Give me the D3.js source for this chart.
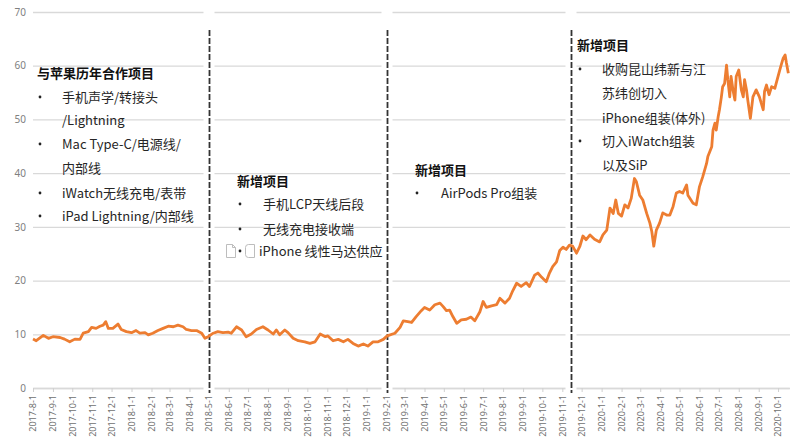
<!DOCTYPE html>
<html><head><meta charset="utf-8">
<script src="https://cdn.jsdelivr.net/npm/d3@7"></script>
<style>
body{margin:0;background:#fff;}
svg{display:block;font-family:"Noto Sans CJK SC","Noto Sans",sans-serif;}
</style>
</head><body>
<svg id="c" width="800" height="445"></svg>
<script>
// ---------- data ----------
const dates = [
"2017-08-01","2017-08-06","2017-08-17","2017-08-25","2017-09-01","2017-09-12","2017-09-19","2017-09-27",
"2017-10-05","2017-10-13","2017-10-18","2017-10-26","2017-10-31","2017-11-07","2017-11-13","2017-11-18",
"2017-11-22","2017-11-26","2017-12-03","2017-12-11","2017-12-16","2017-12-24","2018-01-01","2018-01-08",
"2018-01-14","2018-01-22","2018-01-27","2018-02-03","2018-02-11","2018-02-19","2018-02-27","2018-03-07",
"2018-03-14","2018-03-22","2018-03-27","2018-04-04","2018-04-12","2018-04-20","2018-04-25","2018-04-30",
"2018-05-08","2018-05-15","2018-05-23","2018-05-31","2018-06-05","2018-06-13","2018-06-21","2018-06-28",
"2018-07-06","2018-07-14","2018-07-24","2018-08-01","2018-08-09","2018-08-14","2018-08-19","2018-08-27",
"2018-09-01","2018-09-09","2018-09-17","2018-09-27","2018-10-05","2018-10-13","2018-10-21","2018-10-29",
"2018-11-02","2018-11-10","2018-11-18","2018-11-26","2018-12-03","2018-12-11","2018-12-19","2018-12-27",
"2019-01-03","2019-01-11","2019-01-19","2019-01-27","2019-02-02","2019-02-14","2019-02-22","2019-02-27",
"2019-03-06","2019-03-12","2019-03-19","2019-03-27","2019-04-01","2019-04-09","2019-04-17","2019-04-25",
"2019-04-30","2019-05-05","2019-05-10","2019-05-15","2019-05-21","2019-05-28","2019-06-05","2019-06-12",
"2019-06-18","2019-06-26","2019-07-01","2019-07-06","2019-07-14","2019-07-22","2019-07-27","2019-08-04",
"2019-08-11","2019-08-16","2019-08-22","2019-08-29","2019-09-06","2019-09-11","2019-09-19","2019-09-24",
"2019-09-30","2019-10-07","2019-10-12","2019-10-17","2019-10-23","2019-10-28","2019-11-02","2019-11-07",
"2019-11-12","2019-11-17","2019-11-23","2019-11-28","2019-12-03","2019-12-08","2019-12-14","2019-12-21",
"2019-12-29","2020-01-03","2020-01-09","2020-01-14","2020-01-19","2020-01-23","2020-01-27","2020-02-01",
"2020-02-06","2020-02-11","2020-02-16","2020-02-21","2020-02-24","2020-02-29","2020-03-05","2020-03-11",
"2020-03-16","2020-03-19","2020-03-22","2020-03-26","2020-03-31","2020-04-05","2020-04-11","2020-04-16",
"2020-04-21","2020-04-26","2020-05-01","2020-05-06","2020-05-12","2020-05-14","2020-05-22","2020-05-27",
"2020-06-01","2020-06-06","2020-06-12","2020-06-14","2020-06-20","2020-06-22","2020-06-25","2020-06-27",
"2020-06-30","2020-07-02","2020-07-05","2020-07-07","2020-07-10","2020-07-13","2020-07-15","2020-07-18",
"2020-07-20","2020-07-23","2020-07-26","2020-07-28","2020-08-01","2020-08-05","2020-08-08","2020-08-10",
"2020-08-13","2020-08-15","2020-08-19","2020-08-23","2020-08-28","2020-09-02","2020-09-08","2020-09-10",
"2020-09-13","2020-09-17","2020-09-21","2020-09-26","2020-10-01","2020-10-05","2020-10-09","2020-10-12",
"2020-10-14","2020-10-17"
];
const prices = [
9.1,8.8,9.8,9.25,9.55,9.4,9.1,8.6,
9.1,9.05,10.2,10.5,11.3,11.1,11.5,11.7,
12.35,11.1,11.1,11.9,10.9,10.5,10.3,10.7,
10.2,10.3,9.9,10.2,10.7,11.1,11.5,11.4,
11.7,11.4,10.9,10.7,10.7,10.2,9.25,9.55,
10.2,10.5,10.3,10.4,10.2,11.4,10.8,9.55,
10.05,10.9,11.4,10.8,10.05,10.8,9.9,10.8,
10.3,9.25,8.8,8.6,8.3,8.6,10.05,9.55,
9.7,8.8,9.05,8.6,9.05,8.3,7.8,8.2,
7.8,8.6,8.6,9.05,9.7,10.2,11.3,12.5,
12.35,12.2,13.3,14.4,15.0,14.5,15.5,15.8,
15.15,14.4,14.5,13.3,12.05,12.7,12.8,13.2,
12.5,14.2,16.1,15.0,15.3,15.5,16.7,15.8,
16.7,18.1,19.5,18.9,19.6,18.9,21.0,21.4,
20.6,19.8,21.4,22.6,23.5,25.6,26.2,25.8,
26.6,26.4,25.1,26.3,28.3,27.6,28.5,27.7,
27.2,28.5,29.4,33.5,32.5,35.0,32.5,32.0,
34.1,33.5,35.3,39.0,38.4,35.9,35.0,32.5,
30.7,29.1,26.4,29.4,30.7,32.6,32.2,32.2,
33.8,36.3,36.6,36.3,37.8,35.9,34.4,34.1,
37.5,39.3,41.8,43.1,44.9,48.0,49.3,48.0,
50.5,51.8,54.2,56.1,56.7,60.1,57.4,54.2,
58.0,55.5,53.6,58.0,59.2,55.5,54.2,57.4,
55.5,53.6,50.2,54.2,55.5,54.2,51.8,55.2,
56.4,54.6,56.1,55.8,58.0,59.8,61.4,62.0,
60.5,58.6
];
const yTicks = [0,10,20,30,40,50,60,70];
const domainDates = ["2017-08-01","2020-10-18"];
const dividerDates = ["2018-05-01","2019-02-01","2019-11-14"];

const block1Title = "与苹果历年合作项目";
const block1Lines = ["手机声学/转接头","/Lightning","Mac Type-C/电源线/","内部线","iWatch无线充电/表带","iPad Lightning/内部线"];
const block1Bullets = [true,false,true,false,true,true];
const block2Title = "新增项目";
const block2Lines = ["手机LCP天线后段","无线充电接收端","iPhone 线性马达供应"];
const block3Title = "新增项目";
const block3Lines = ["AirPods Pro组装"];
const block4Title = "新增项目";
const block4Lines = ["收购昆山纬新与江","苏纬创切入","iPhone组装(体外)","切入iWatch组装","以及SiP"];
const block4Bullets = [true,false,false,true,false];

// ---------- chart ----------
const parse = d3.timeParse("%Y-%m-%d");
const data = dates.map((d,i)=>({date:parse(d), v:prices[i]}));
const svg = d3.select("#c");
const L = 33, R = 789, T = 12, B = 388;

const x = d3.scaleTime().domain(domainDates.map(parse)).range([L,R]);
const y = d3.scaleLinear().domain([0,70]).range([B,T]);

// grid + y labels
const ya = svg.append("g").attr("transform",`translate(${L},0)`)
  .call(d3.axisLeft(y).tickValues(yTicks).tickSize(-(R-L+1)).tickPadding(7));
ya.select(".domain").remove();
ya.selectAll(".tick line").attr("stroke","#d9d9d9").attr("stroke-width",1.3);
ya.selectAll(".tick text").attr("fill","#808080").attr("font-size",10)
  .attr("font-family","'Noto Sans','DejaVu Sans',sans-serif");

// x axis
const xa = svg.append("g").attr("transform",`translate(0,${B})`)
  .call(d3.axisBottom(x).ticks(d3.timeMonth.every(1)).tickFormat(d3.timeFormat("%Y-%-m-%-d")).tickSize(4).tickSizeOuter(0));
xa.select(".domain").attr("stroke","#d9d9d9").attr("stroke-width",1.3);
xa.selectAll(".tick line").attr("stroke","#d0d0d0");
xa.selectAll(".tick text").attr("fill","#707070").attr("font-size",9)
  .attr("font-family","'Noto Sans','DejaVu Sans',sans-serif")
  .attr("transform","rotate(-90)").attr("text-anchor","end")
  .attr("x",-7).attr("y",0).attr("dy","0.32em");

// dividers
dividerDates.forEach(d=>{
  const xx = Math.round(x(parse(d)))+0.5;
  svg.append("rect").attr("x",xx-6).attr("y",T-4).attr("width",11).attr("height",B-T+8).attr("fill","#fff");
  svg.append("line").attr("x1",xx).attr("x2",xx).attr("y1",30).attr("y2",393)
    .attr("stroke","#333").attr("stroke-width",1.8).attr("stroke-dasharray","6,2");
});

// line
svg.append("path").datum(data)
  .attr("fill","none").attr("stroke","#ED7D31").attr("stroke-width",2.8)
  .attr("stroke-linejoin","round")
  .attr("d",d3.line().x(d=>x(d.date)).y(d=>y(d.v)));

// annotation text
function title(t,tx,ty){
  svg.append("text").attr("x",tx).attr("y",ty).attr("dy","0.35em")
    .attr("font-size",13).attr("font-weight","bold").attr("fill","#111").text(t);
}
function line(t,tx,ty,bx){
  if(bx!=null) svg.append("circle").attr("cx",bx).attr("cy",ty).attr("r",1.4).attr("fill","#222");
  svg.append("text").attr("x",tx).attr("y",ty).attr("dy","0.35em")
    .attr("font-size",13).attr("fill","#262626").text(t);
}
title(block1Title,37,73);
const b1y=[97,120,144,168,193,216];
block1Lines.forEach((t,i)=>line(t,62,b1y[i],block1Bullets[i]?40:null));

title(block2Title,237,181);
const b2y=[204,229,251], b2x=[263,263,259];
block2Lines.forEach((t,i)=>line(t,b2x[i],b2y[i],240));
// broken-image placeholders
svg.append("path").attr("d","M226.5,244.5 h6 l3,3 v10 h-9 z M232.5,244.5 v3 h3")
  .attr("fill","none").attr("stroke","#bdbdbd").attr("stroke-width",1);
svg.append("path").attr("d","M248.5,244.5 h6 v13 h-6 a3,3 0 0 1 -3,-3 v-7 a3,3 0 0 1 3,-3 z")
  .attr("fill","none").attr("stroke","#bdbdbd").attr("stroke-width",1);

title(block3Title,415,170);
block3Lines.forEach((t,i)=>line(t,441,193,417));

title(block4Title,577,45);
const b4y=[69,93,118,141,165];
block4Lines.forEach((t,i)=>line(t,602,b4y[i],block4Bullets[i]?580:null));
</script>
</body></html>
